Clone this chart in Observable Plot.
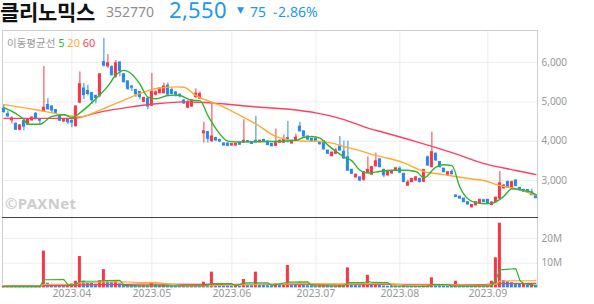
<!DOCTYPE html>
<html><head><meta charset="utf-8">
<script src="https://cdn.jsdelivr.net/npm/d3@7"></script>
<script src="https://cdn.jsdelivr.net/npm/@observablehq/plot@0.6"></script>
<style>
@font-face{font-family:"HdrKR";src:local("Noto Sans CJK KR Bold"),local("NotoSansCJKkr-Bold"),local("Noto Sans CJK KR");font-weight:700;ascent-override:88%;descent-override:12%;line-gap-override:0%;}
@font-face{font-family:"HdrLat";src:local("Noto Sans Regular"),local("NotoSans-Regular"),local("Noto Sans");font-weight:400;ascent-override:80%;descent-override:20%;line-gap-override:0%;}
html,body{margin:0;padding:0;background:#fff;}
body{width:594px;height:304px;overflow:hidden;position:relative;font-family:"Noto Sans","Noto Sans CJK KR",sans-serif;}
.abs{position:absolute;white-space:nowrap;}
.line{position:absolute;}
</style></head><body>
<div id="hdr"></div>
<div class="line" style="left:2px;top:30px;width:536px;height:1px;background:#cfcfcf"></div>
<div class="line" style="left:2px;top:30px;width:1px;height:258px;background:#cfcfcf"></div>
<div class="line" style="left:537px;top:30px;width:1px;height:258px;background:#cfcfcf"></div>
<div id="price" class="abs" style="left:0;top:31px"></div>
<div id="vol" class="abs" style="left:0;top:217px"></div>
<div class="line" style="left:2px;top:217px;width:536px;height:1px;background:#444"></div>
<div id="legend" class="abs" style="left:7px;top:36px;font-size:11px;line-height:13px;color:#9a9a9a"></div>
<div class="abs" style="left:5px;top:194px;font:700 15px/18px 'Noto Sans';color:#cdcdcd;letter-spacing:0.3px">©PAXNet</div>
<script>
// ---------- header data ----------
const stockName = "클리노믹스";
const stockCode = "352770";
const lastPrice = 2550;
const priceChange = -75;
const changePct = -2.86;

// ---------- month ticks ----------
const monthIdx = [17, 37, 57, 78, 99, 121];
const monthLabels = ["2023.04", "2023.05", "2023.06", "2023.07", "2023.08", "2023.09"];
const priceTicks = [3000, 4000, 5000, 6000];
const volTicks = [10, 20];

// ---------- daily candles (trading days, index 0..133) ----------
const open = [4820,4690,4530,4440,4290,4510,4420,4530,4700,4560,
4760,4920,4880,4790,4630,4500,4560,4520,4380,4980,
5340,5280,5220,5150,5160,6010,5900,5880,5640,6000,
5700,5520,5390,5300,5250,5000,5080,4900,5180,5220,
5220,5410,5300,5240,5180,5030,4850,4880,5120,5080,
4200,4230,4000,4080,4030,3940,3940,3890,3890,3960,
3960,4000,3970,4010,3970,4030,3990,3930,3880,3960,
3960,4080,3940,4010,4370,4250,4120,4060,4060,3980,
4000,3760,3620,3680,3860,3730,3590,3270,3080,3080,
3020,3200,3150,3360,3540,3270,3130,3180,3250,3300,
3170,2870,2960,3000,3040,2970,3590,3340,3680,3470,
3300,3130,3220,2620,2590,2540,2450,2320,2370,2420,
2500,2510,2380,2450,2540,2800,2960,2790,3000,2810,
2760,2760,2700,2620];
const high = [4930,4760,4620,4470,4420,4530,4560,4620,4720,4580,
5900,5080,4900,4800,4660,4560,4580,4540,4900,5760,
5470,5420,5240,5170,5720,6610,6200,5920,6050,6020,
5720,5530,5420,5320,5260,5110,5100,5720,5280,5360,
5480,5480,5350,5260,5200,5060,5040,5060,5330,5250,
4480,4250,4950,4100,4050,3960,3950,3940,3950,3970,
4540,4020,3990,4630,4030,4050,4000,3940,4310,4030,
4160,4500,4030,4180,4480,4260,4130,4070,4070,3990,
4010,3770,3720,3820,4120,4000,4000,3290,3160,3090,
3230,3600,3360,3700,3560,3290,3260,3260,3330,3350,
3180,3010,3060,3100,3060,3280,3620,4230,3700,3480,
3310,3230,3270,2640,2600,2550,2460,2390,2460,2520,
2520,2520,2460,2580,3230,2900,2990,2980,3020,2830,
2780,2770,2780,2640];
const low = [4710,4600,4440,4270,4270,4260,4400,4510,4540,4420,
4740,4790,4700,4690,4500,4480,4420,4340,4360,4950,
5060,5150,4930,4950,5100,5880,5850,5650,5600,5640,
5480,5290,5260,5110,5050,4990,4800,4880,5150,5200,
5200,5170,5180,5120,5100,4930,4820,4860,5080,5060,
3950,3950,3960,3990,3970,3870,3860,3870,3870,3900,
3950,3960,3920,3960,3960,3970,3890,3860,3870,3950,
3950,3950,3930,4000,4230,4100,4020,3990,3970,3900,
3780,3660,3600,3660,3750,3540,3230,3150,3060,2970,
2980,3180,3130,3340,3320,3070,3110,3160,3230,3180,
2950,2840,2940,2980,2940,2950,3360,3320,3490,3320,
3200,3110,3140,2570,2530,2440,2380,2300,2350,2400,
2440,2400,2360,2440,2520,2780,2800,2780,2840,2740,
2700,2680,2620,2540];
const close = [4740,4630,4580,4290,4400,4370,4550,4600,4560,4520,
4850,4810,4780,4720,4520,4540,4480,4470,4880,5450,
5170,5200,5040,5100,5700,5920,5980,5680,5980,5780,
5500,5330,5360,5190,5120,5100,4880,5250,5240,5340,
5390,5180,5200,5180,5140,4960,4990,5040,5210,5200,
4250,4060,4120,4020,3990,3890,3880,3930,3930,3910,
4010,3970,3930,3970,4010,3980,3900,3870,3950,4010,
4030,4040,4010,4090,4250,4120,4040,4000,3980,3920,
3790,3680,3710,3760,3760,3560,3250,3170,3150,3000,
3210,3270,3340,3490,3340,3130,3230,3240,3310,3200,
2960,2950,3040,3080,2960,3270,3380,3720,3510,3340,
3210,3210,3160,2580,2540,2450,2390,2380,2450,2510,
2450,2420,2440,2560,2930,2870,2820,2960,2860,2750,
2710,2690,2625,2550];
// volume, millions of shares
const volume = [0.6,0.5,0.7,0.6,0.5,0.8,0.6,0.7,0.5,0.6,
14.9,1.9,1.3,1.2,1.0,0.9,1.1,1.6,2.7,12.7,
2.7,2.2,1.8,1.5,2.9,7.4,2.8,2.3,2.6,1.6,
1.4,1.2,1.0,0.9,0.8,0.9,0.8,2.0,1.2,1.0,
1.1,0.9,0.7,0.6,0.5,0.6,0.5,0.7,0.6,0.5,
2.3,1.5,6.4,1.6,1.2,1.0,0.9,0.8,0.9,0.7,
3.4,1.1,0.9,6.4,1.3,1.0,0.9,0.8,1.6,1.0,
1.3,9.1,1.6,1.5,2.0,1.2,0.9,0.8,0.7,0.8,
1.1,0.9,0.7,0.8,1.3,1.5,8.1,1.6,1.2,0.9,
1.4,5.1,1.3,1.4,1.0,0.8,0.7,0.6,0.7,0.6,
0.9,0.6,0.5,0.6,0.5,0.9,1.2,4.1,1.4,1.0,
0.8,0.7,0.6,2.7,1.1,0.9,0.8,0.7,0.8,0.9,
0.8,0.9,2.7,12.2,26.2,3.0,2.5,2.1,1.7,1.4,
1.6,1.2,1.5,1.1];

// ---------- moving averages (index, value) ----------
const ma5K = [0,3,5,6,9,12,15,17,19,22,24,26,28,30,32,34,36,38,41,43,44,47,49,51,53,56,58,62,66,70,73,75,77,79,81,83,85,87,89,91,94,97,100,103,105,108,110,112,114,117,120,122,125,127,130,132,133];
const ma5V = [4850,4700,4550,4430,4430,4630,4670,4600,4720,4980,5180,5400,5680,5800,5700,5450,5120,5080,5160,5170,5160,5040,5030,4650,4320,4000,3980,3985,3990,4000,4020,4100,4120,4080,3900,3740,3600,3500,3260,3190,3230,3260,3260,3230,3070,3340,3400,3380,2830,2470,2410,2420,2600,2790,2750,2700,2640];
const ma20K = [0,8,16,19,24,29,33,38,43,45,48,52,55,58,63,68,72,75,78,82,85,89,92,95,100,105,110,117,120,124,129,133];
const ma20V = [4930,4800,4650,4620,4790,5000,5170,5340,5380,5370,5160,4990,4865,4710,4440,4120,4020,4000,4000,3950,3865,3760,3660,3590,3450,3230,3150,3040,3000,2870,2770,2620];
const ma60K = [0,17,24,31,38,45,50,62,74,78,84,87,91,95,103,112,120,128,133];
const ma60V = [4580,4580,4740,4860,4950,5000,4985,4880,4780,4720,4580,4480,4330,4220,3990,3710,3430,3255,3150];

const vma5K = [0,9,10,15,16,18,19,24,25,29,30,33,50,52,57,58,60,66,67,71,76,77,85,86,90,91,92,96,97,106,107,111,112,121,122,123,124,128,129,130,133];
const vma5V = [0.5,0.5,3.3,3.4,1.2,1.3,2.7,2.8,3.0,3.1,1.0,0.8,0.8,1.7,1.7,0.8,2.0,2.0,1.0,2.3,2.4,0.9,0.7,2.1,2.1,2.7,2.2,2.1,0.8,0.6,1.3,1.3,0.7,0.7,1.0,3.4,7.3,7.8,3.0,1.7,0.9];
const vma20K = [0,9,10,18,19,25,30,34,38,45,50,55,60,65,70,75,80,85,90,95,100,110,115,120,123,124,133];
const vma20V = [0.7,0.7,1.4,1.4,2.0,2.4,2.5,2.1,2.2,0.8,0.8,1.1,1.2,1.5,1.5,1.8,1.6,1.5,1.7,1.8,1.2,1.1,1.2,0.9,1.5,2.8,2.9];
const vma60K = [0,15,20,35,50,70,100,120,124,133];
const vma60V = [0.9,0.9,1.2,1.5,1.4,1.4,1.4,1.3,1.7,1.8];

const maPeriods = [5, 20, 60];

// ---------- styling ----------
const RED = "#f5374a", BLUE = "#2a87ee";
const maColors = ["#2fb52f", "#ffab2e", "#ff3f5f"];
const HEAD_BLUE = "#2196f3";

// header
const fmt = d3.format(",");
const lat = "'HdrLat','Noto Sans'";
document.getElementById("hdr").innerHTML =
  `<div class="abs" style="left:0;top:2px;font:700 21px/21px 'HdrKR','Noto Sans CJK KR';color:#111">${stockName}</div>` +
  `<div class="abs" style="left:106px;top:6px;font:400 14px/14px ${lat};color:#8e8e8e">${stockCode}</div>` +
  `<div class="abs" style="left:169px;top:0px;font:400 22px/22px ${lat};color:${HEAD_BLUE}">${fmt(lastPrice)}</div>` +
  `<div class="abs" style="left:237px;top:6px;font:400 9px/9px 'DejaVu Sans';color:${HEAD_BLUE}">${priceChange < 0 ? "▼" : "▲"}</div>` +
  `<div class="abs" style="left:250px;top:6px;font:400 14px/14px ${lat};color:${HEAD_BLUE}">${Math.abs(priceChange)}</div>` +
  `<div class="abs" style="left:273px;top:6px;font:400 14px/14px ${lat};color:${HEAD_BLUE}">${changePct.toFixed(2)}%</div>`;

document.getElementById("legend").innerHTML =
  `<span style="font-family:'Noto Sans CJK KR';font-size:10.5px">이동평균선</span> ` +
  maPeriods.map((p, i) => `<span style="color:${maColors[i]}">${p}</span>`).join(" ");

// data tables
const candles = close.map((c, k) => ({k, o: open[k], h: high[k], l: low[k], c}));
const vols = volume.map((v, k) => ({k, v, up: k === 0 || v >= volume[k - 1]}));
const pairs = (K, V) => K.map((k, i) => ({k, v: V[i]}));
const ma5 = pairs(ma5K, ma5V), ma20 = pairs(ma20K, ma20V), ma60 = pairs(ma60K, ma60V);
const vma5 = pairs(vma5K, vma5V), vma20 = pairs(vma20K, vma20V), vma60 = pairs(vma60K, vma60V);

const xDomain = [-0.1, 133.4];
const half = 0.375;
const candleColor = d => d.c >= d.o ? RED : BLUE;
const common = {
  width: 594, marginLeft: 3, marginRight: 57, marginTop: 0,
  x: {type: "linear", domain: xDomain, axis: null},
  style: {background: "transparent", fontFamily: "'Noto Sans', sans-serif", color: "#999", overflow: "visible"}
};

const pricePlot = Plot.plot({
  ...common,
  height: 186, marginBottom: 0,
  y: {domain: [2060, 6788], axis: null},
  marks: [
    Plot.ruleX(monthIdx, {stroke: "#ededed"}),
    Plot.ruleY(priceTicks, {stroke: "#ededed"}),
    Plot.axisY({anchor: "right", ticks: priceTicks, tickFormat: fmt, tickSize: 0, tickPadding: 4, label: null, fontSize: 10}),
    Plot.ruleX(candles, {x: "k", y1: "l", y2: "h", stroke: candleColor, strokeWidth: 1}),
    Plot.rect(candles, {x1: d => d.k - half, x2: d => d.k + half,
      y1: d => Math.min(d.o, d.c), y2: d => Math.max(d.o, d.c),
      fill: candleColor, insetTop: -0.5, insetBottom: -0.5}),
    Plot.line(ma60, {x: "k", y: "v", stroke: maColors[2], strokeWidth: 1.4, curve: "monotone-x"}),
    Plot.line(ma20, {x: "k", y: "v", stroke: maColors[1], strokeWidth: 1.4, curve: "monotone-x"}),
    Plot.line(ma5, {x: "k", y: "v", stroke: maColors[0], strokeWidth: 1.4, curve: "monotone-x"})
  ]
});
document.getElementById("price").appendChild(pricePlot);

const volPlot = Plot.plot({
  ...common,
  height: 87, marginBottom: 16.6,
  y: {domain: [0, 28.5], axis: null},
  marks: [
    Plot.ruleX(monthIdx, {stroke: "#ededed"}),
    Plot.ruleY(volTicks, {stroke: "#ededed"}),
    Plot.axisY({anchor: "right", ticks: volTicks, tickFormat: d => d + "M", tickSize: 0, tickPadding: 4, label: null, fontSize: 10}),
    Plot.axisX({ticks: monthIdx, tickFormat: d => monthLabels[monthIdx.indexOf(d)], tickSize: 0, tickPadding: 2, label: null, fontSize: 10.5}),
    Plot.rect(vols, {x1: d => d.k - half, x2: d => d.k + half, y1: 0, y2: "v",
      fill: d => d.up ? RED : BLUE}),
    Plot.line(vma60, {x: "k", y: "v", stroke: maColors[2], strokeWidth: 1.2}),
    Plot.line(vma20, {x: "k", y: "v", stroke: maColors[1], strokeWidth: 1.2}),
    Plot.line(vma5, {x: "k", y: "v", stroke: maColors[0], strokeWidth: 1.2})
  ]
});
document.getElementById("vol").appendChild(volPlot);
</script>
</body></html>
